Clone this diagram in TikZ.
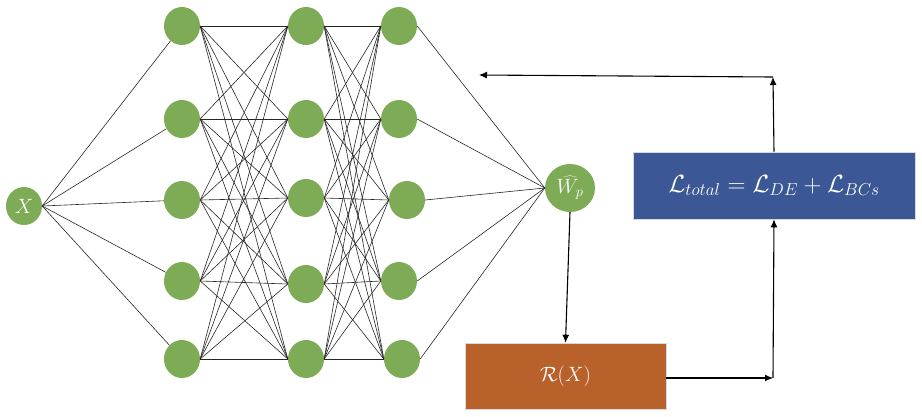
\documentclass[tikz,border=0pt]{standalone}
\usetikzlibrary{shapes.geometric,arrows.meta}
\definecolor{neuron}{HTML}{7EAB55}
\definecolor{lossblue}{HTML}{3B5795}
\definecolor{resorange}{HTML}{B8612B}
\tikzset{
  neuronnode/.style={ellipse,fill=neuron,draw=none,minimum width=36pt,minimum height=38pt,inner sep=0pt,text=white,font=\fontsize{20}{24}\selectfont},
  outnode/.style={neuronnode,minimum width=50pt,minimum height=48pt},
  wire/.style={draw=black!85,line width=0.6pt},
  flow/.style={draw=black,line width=1.1pt,-{Latex[length=8pt,width=7pt]}},
  blockbox/.style={rectangle,draw=white!85!black,line width=0.6pt,text=white,inner sep=0pt}
}
\begin{document}
\begin{tikzpicture}[x=1pt,y=-1pt]
\useasboundingbox (0,0) rectangle (922,416);

% input
\node[neuronnode] (X) at (24,206) {$X$};

% hidden layers
\node[neuronnode] (a1) at (182,26) {};
\node[neuronnode] (a2) at (182,119) {};
\node[neuronnode] (a3) at (182,200) {};
\node[neuronnode] (a4) at (182,281) {};
\node[neuronnode] (a5) at (182,359) {};

\node[neuronnode] (b1) at (306,26) {};
\node[neuronnode] (b2) at (306,119) {};
\node[neuronnode] (b3) at (306,198) {};
\node[neuronnode] (b4) at (306,284) {};
\node[neuronnode] (b5) at (306,359) {};

\node[neuronnode] (c1) at (399,26) {};
\node[neuronnode] (c2) at (399,119) {};
\node[neuronnode] (c3) at (407,200) {};
\node[neuronnode] (c4) at (399,281) {};
\node[neuronnode] (c5) at (402,359) {};

% output
\node[outnode] (W) at (570,188) {$\widehat{W_p}$};

% blocks
\node[blockbox,fill=lossblue,minimum width=282pt,minimum height=67pt,font=\fontsize{25}{30}\selectfont] (L) at (774,185.5)
  {$\mathcal{L}_{total}=\mathcal{L}_{DE}+\mathcal{L}_{BCs}$};
\node[blockbox,fill=resorange,minimum width=201pt,minimum height=66pt,font=\fontsize{22}{26}\selectfont] (R) at (565.5,376)
  {$\mathcal{R}(X)$};

% connections
\foreach \i in {1,...,5} {
  \draw[wire] (X.east) -- (a\i);
  \draw[wire] (c\i.east) -- (W.west);
  \foreach \j in {1,...,5} {
    \draw[wire] (a\i.east) -- (b\j.west);
    \draw[wire] (b\i.east) -- (c\j.west);
  }
}

% feedback loop
\coordinate (r1) at (773,378);
\coordinate (t1) at (773,77);
\coordinate (t2) at (479,75);
\draw[flow] (W.south) -- (R.north);
\draw[flow] (R.east |- r1) -- (r1);
\draw[flow] (r1) -- (L.south);
\draw[flow] (L.north) -- (t1);
\draw[flow] (t1) -- (t2);
\end{tikzpicture}
\end{document}
